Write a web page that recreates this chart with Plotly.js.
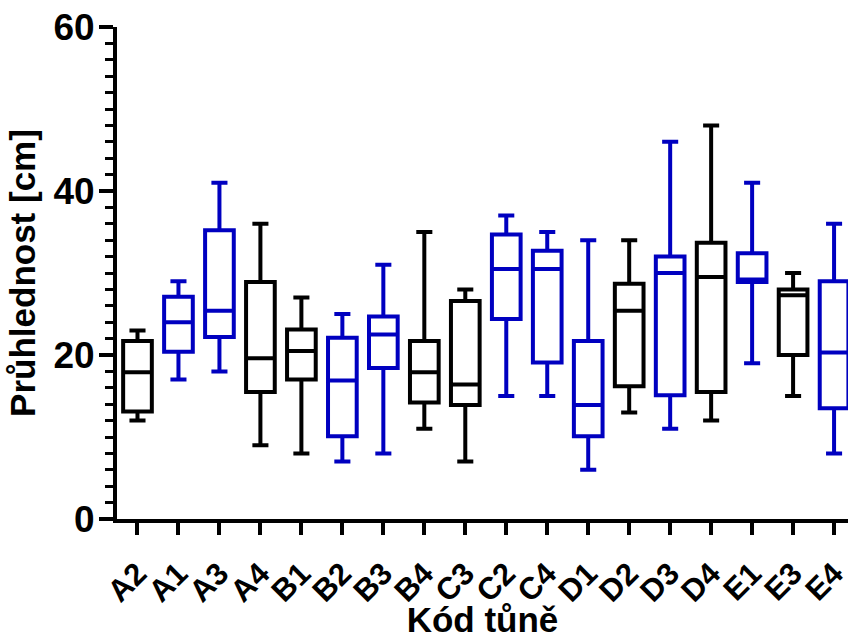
<!DOCTYPE html>
<html>
<head>
<meta charset="utf-8">
<script src="https://cdn.plot.ly/plotly-3.0.1.min.js"></script>
<style>html,body{margin:0;padding:0;background:#fff;}#chart{width:848px;height:639px;}</style>
</head>
<body>
<div id="chart"></div>
<script>
var categories = ['A2','A1','A3','A4','B1','B2','B3','B4','C3','C2','C4','D1','D2','D3','D4','E1','E3','E4'];
var group =      ['k','b','b','k','k','b','b','k','k','b','b','b','k','b','k','b','k','b'];
var minVals =    [12, 17, 18, 9, 8, 7, 8, 11, 7, 15, 15, 6, 13, 11, 12, 19, 15, 8];
var q1Vals =     [13.1, 20.4, 22.2, 15.5, 17.0, 10.1, 18.4, 14.2, 13.9, 24.4, 19.1, 10.1, 16.2, 15.1, 15.5, 28.9, 20.0, 13.5];
var medianVals = [17.9, 24.0, 25.4, 19.6, 20.5, 16.9, 22.5, 17.9, 16.4, 30.5, 30.5, 13.9, 25.4, 30.0, 29.5, 29.2, 27.3, 20.3];
var q3Vals =     [21.7, 27.1, 35.2, 28.9, 23.1, 22.1, 24.7, 21.7, 26.6, 34.7, 32.7, 21.7, 28.7, 32.0, 33.7, 32.4, 28.0, 29.0];
var maxVals =    [23, 29, 41, 36, 27, 25, 31, 35, 28, 37, 35, 34, 34, 46, 48, 41, 30, 36];
var yTicks = [0, 20, 40, 60];

var colorMap = {k: '#000000', b: '#0000C0'};
var FONT = 'Liberation Sans, Arial, sans-serif';

function makeTrace(g) {
  var t = {type: 'box', x: [], q1: [], median: [], q3: [], lowerfence: [], upperfence: [],
    boxpoints: false, width: 0.7, whiskerwidth: 0.56,
    line: {color: colorMap[g], width: 4}, fillcolor: 'rgba(255,255,255,0)',
    hoverinfo: 'skip', showlegend: false};
  for (var i = 0; i < categories.length; i++) {
    if (group[i] !== g) continue;
    t.x.push(categories[i]);
    t.q1.push(q1Vals[i]); t.median.push(medianVals[i]); t.q3.push(q3Vals[i]);
    t.lowerfence.push(minVals[i]); t.upperfence.push(maxVals[i]);
  }
  return t;
}

var data = [makeTrace('k'), makeTrace('b')];

var layout = {
  width: 848, height: 639,
  margin: {l: 117, r: 0, t: 27, b: 120, pad: 0},
  paper_bgcolor: '#fff', plot_bgcolor: '#fff',
  boxmode: 'overlay',
  font: {family: FONT, color: '#000', weight: 'bold'},
  xaxis: {
    type: 'category', categoryorder: 'array', categoryarray: categories,
    range: [-0.5, 17.34],
    showline: true, linewidth: 4, linecolor: '#000',
    ticks: 'outside', ticklen: 12, tickwidth: 4, tickcolor: '#000',
    tickangle: -45, ticklabelstandoff: 8,
    tickfont: {family: FONT, size: 31, weight: 'bold'},
    showgrid: false, zeroline: false,
    title: {text: 'Kód tůně', font: {family: FONT, size: 35, weight: 'bold'}, standoff: 2}
  },
  yaxis: {
    range: [0, 60], tickvals: yTicks, ticktext: yTicks.map(String),
    showline: true, linewidth: 4, linecolor: '#000',
    ticks: 'outside', ticklen: 14, tickwidth: 4, tickcolor: '#000',
    ticklabelstandoff: -3,
    minor: {dtick: 2, tick0: 0, ticks: 'outside', ticklen: 8, tickwidth: 3, tickcolor: '#000', showgrid: false},
    tickfont: {family: FONT, size: 37, weight: 'bold'},
    showgrid: false, zeroline: false,
    title: {text: 'Průhlednost [cm]', font: {family: FONT, size: 35, weight: 'bold'}, standoff: 8}
  }
};

Plotly.newPlot('chart', data, layout, {staticPlot: true, displayModeBar: false});
</script>
</body>
</html>
